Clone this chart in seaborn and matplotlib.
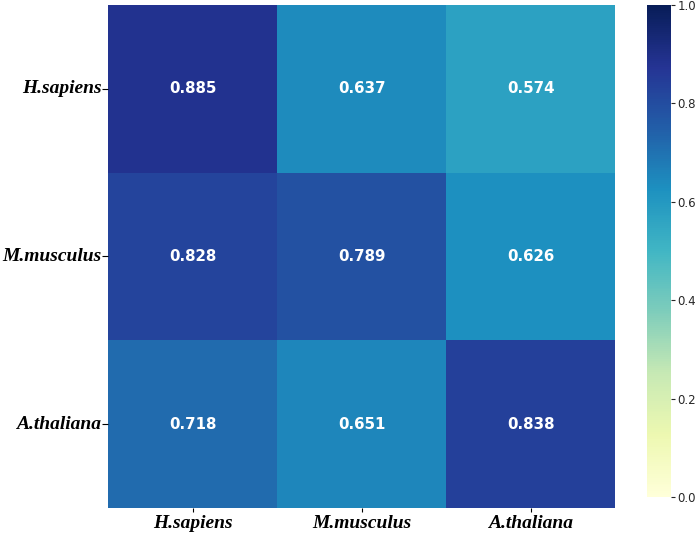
import numpy as np
import pandas as pd
import matplotlib
matplotlib.use('Agg')
import matplotlib.pyplot as plt
import seaborn as sns

# species labels and similarity values (rows = y, cols = x)
species = ['H.sapiens', 'M.musculus', 'A.thaliana']
row_hs = [0.885, 0.637, 0.574]
row_mm = [0.828, 0.789, 0.626]
row_at = [0.718, 0.651, 0.838]

df = pd.DataFrame([row_hs, row_mm, row_at], index=species, columns=species)

fig = plt.figure(figsize=(6.99, 5.37), dpi=100)
ax = fig.add_axes([0.155, 0.054, 0.725, 0.937])
cax = fig.add_axes([0.926, 0.0745, 0.034, 0.916])

sns.heatmap(df, ax=ax, cbar_ax=cax, cmap='YlGnBu', vmin=0, vmax=1,
            annot=True, fmt='.3f',
            annot_kws={'color': 'white', 'fontsize': 10.8, 'fontweight': 'bold'})

label_font = dict(family=['Liberation Serif', 'DejaVu Serif'], style='italic',
                  weight='bold', size=14)
ax.set_xticklabels(species, rotation=0, **label_font)
ax.set_yticklabels(species, rotation=0, **label_font)
ax.tick_params(axis='x', pad=2, length=3)
ax.tick_params(axis='y', pad=1, length=4)
ax.set_xlabel('')
ax.set_ylabel('')

# colorbar ticks, slightly grey like the reference
cax.set_yticks([0.0, 0.2, 0.4, 0.6, 0.8, 1.0])
cax.tick_params(labelsize=8.5, length=3, pad=1.5, colors='#262626')

fig.savefig('out.png', dpi=100)
